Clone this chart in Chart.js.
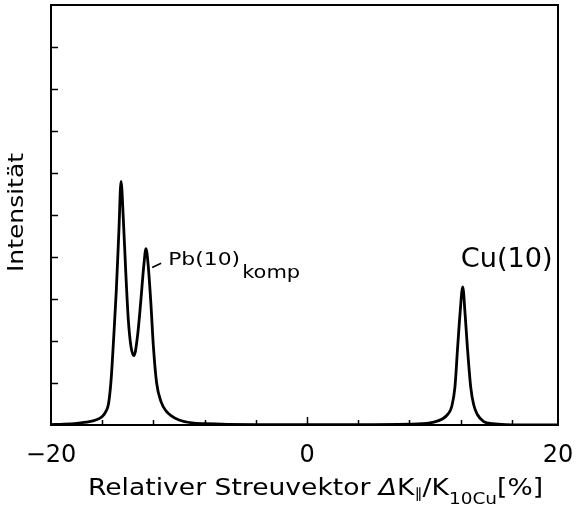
<!DOCTYPE html>
<html>
<head>
<meta charset="utf-8">
<script src="https://cdn.jsdelivr.net/npm/chart.js@4/dist/chart.umd.min.js"></script>
<style>
html,body{margin:0;padding:0;background:#fff;}
#wrap{width:582px;height:508px;position:relative;}
</style>
</head>
<body>
<div id="wrap"><canvas id="c" width="582" height="508"></canvas></div>
<script>
// Data
const xValues = [-20, -19, -18, -17, -16.5, -16, -15.7, -15.5, -15.3, -15.1, -14.9, -14.7, -14.53, -14.35, -14.17, -13.96, -13.75, -13.52, -13.25, -13.0, -12.75, -12.58, -12.4, -12.2, -12.0, -11.75, -11.4, -11.0, -10.6, -10, -9, -8, -4, 0, 4, 8, 9, 9.8, 10.6, 11, 11.3, 11.55, 11.75, 11.95, 12.16, 12.34, 12.52, 12.78, 13.0, 13.3, 13.8, 14.5, 15.5, 19.6];
const intensity = [0.01, 0.02, 0.04, 0.08, 0.12, 0.2, 0.33, 0.52, 1.1, 2.1, 3.2, 4.6, 5.8, 4.9, 3.7, 2.5, 1.86, 1.65, 2.1, 2.9, 3.8, 4.2, 3.77, 2.9, 1.86, 1.0, 0.55, 0.33, 0.22, 0.12, 0.05, 0.03, 0.01, 0.01, 0.01, 0.02, 0.03, 0.06, 0.15, 0.26, 0.44, 0.9, 1.8, 2.66, 3.29, 2.66, 1.86, 0.91, 0.5, 0.25, 0.08, 0.03, 0.01, 0.0];
const xMin = -20, xMax = 19.6;
const xLabelTicks = [-20, 0, 19.6];
const xLabelTexts = ["\u221220", "0", "20"];
const xTickStep = 4;
const yTickStep = 1;
const peakLabels = [
  {x: -10.85, y: 3.8, main: "Pb(10)", mainSize: 18, mainWidth: 72, sub: "komp", subSize: 18, subWidth: 58, leader: [[-12.1, 3.75], [-11.4, 3.85]]},
  {x: 12.0, y: 3.76, main: "Cu(10)", mainSize: 26, mainWidth: 92, sub: "", leader: null}
];
const yTitle = "Intensität";

const FONT = "'DejaVu Sans', sans-serif";

function fitText(ctx, text, x, y, width) {
  const w = ctx.measureText(text).width;
  const k = width / w;
  ctx.save();
  ctx.translate(x, y);
  ctx.scale(k, 1);
  ctx.fillText(text, 0, 0);
  ctx.restore();
}

const decor = {
  id: 'decor',
  afterDraw(chart) {
    const ctx = chart.ctx;
    const a = chart.chartArea;
    const xs = chart.scales.x, ys = chart.scales.y;
    ctx.save();
    ctx.strokeStyle = '#000';
    ctx.fillStyle = '#000';
    // box
    ctx.lineWidth = 2;
    ctx.strokeRect(a.left, a.top, a.right - a.left, a.bottom - a.top);
    // inward ticks
    ctx.lineWidth = 1.5;
    for (let v = xMin + xTickStep; v < xMax; v += xTickStep) {
      const px = Math.round(xs.getPixelForValue(v)) + 0.5;
      const len = (v === 0) ? 8 : 5;
      ctx.beginPath(); ctx.moveTo(px, a.bottom); ctx.lineTo(px, a.bottom - len); ctx.stroke();
    }
    for (let v = ys.min + yTickStep; v < ys.max; v += yTickStep) {
      const py = Math.round(ys.getPixelForValue(v)) + 0.5;
      ctx.beginPath(); ctx.moveTo(a.left, py); ctx.lineTo(a.left + 7, py); ctx.stroke();
    }
    // peak labels
    ctx.textBaseline = 'alphabetic';
    ctx.textAlign = 'left';
    peakLabels.forEach(p => {
      const px = xs.getPixelForValue(p.x), py = ys.getPixelForValue(p.y);
      ctx.font = p.mainSize + "px " + FONT;
      fitText(ctx, p.main, px, py, p.mainWidth);
      if (p.sub) {
        ctx.font = p.subSize + "px " + FONT;
        fitText(ctx, p.sub, px + p.mainWidth + 2, py + 13, p.subWidth);
      }
      if (p.leader) {
        ctx.lineWidth = 1.5;
        ctx.beginPath();
        ctx.moveTo(xs.getPixelForValue(p.leader[0][0]), ys.getPixelForValue(p.leader[0][1]));
        ctx.lineTo(xs.getPixelForValue(p.leader[1][0]), ys.getPixelForValue(p.leader[1][1]));
        ctx.stroke();
      }
    });
    // y title
    ctx.save();
    ctx.translate(23, 272);
    ctx.rotate(-Math.PI / 2);
    ctx.textAlign = 'left';
    ctx.textBaseline = 'alphabetic';
    ctx.font = "22px " + FONT;
    fitText(ctx, yTitle, 0, 0, 119);
    ctx.restore();
    // x title with subscripts, fitted to its width in the reference
    const base = 495;
    const parts = [
      {t: "Relativer Streuvektor ", s: 23, dy: 0, style: ""},
      {t: "\u0394", s: 23, dy: 0, style: "italic "},
      {t: "K", s: 23, dy: 0, style: ""},
      {t: "\u2225", s: 14, dy: 3, style: ""},
      {t: "/K", s: 23, dy: 0, style: ""},
      {t: "10Cu", s: 16, dy: 9, style: ""},
      {t: "[%]", s: 23, dy: 0, style: ""}
    ];
    let total = 0;
    parts.forEach(p => { ctx.font = p.style + p.s + "px " + FONT; p.w = ctx.measureText(p.t).width; total += p.w; });
    const k = 455 / total;
    ctx.save();
    ctx.translate(88, base);
    ctx.scale(k, 1);
    let x = 0;
    parts.forEach(p => {
      ctx.font = p.style + p.s + "px " + FONT;
      ctx.fillText(p.t, x, p.dy);
      x += p.w;
    });
    ctx.restore();
    ctx.restore();
  }
};

const data = xValues.map((v, i) => ({x: v, y: intensity[i]}));

new Chart(document.getElementById('c'), {
  type: 'line',
  data: {
    datasets: [{
      data: data,
      borderColor: '#000',
      borderWidth: 2.8,
      pointRadius: 0,
      cubicInterpolationMode: 'monotone',
      fill: false
    }]
  },
  options: {
    responsive: false,
    animation: false,
    devicePixelRatio: 1,
    layout: {padding: {left: 0, right: 24, top: 5, bottom: 0}},
    plugins: {legend: {display: false}, tooltip: {enabled: false}, title: {display: false}},
    scales: {
      x: {
        type: 'linear', min: xMin, max: xMax,
        grid: {display: false},
        border: {display: false},
        afterBuildTicks: (s) => { s.ticks = xLabelTicks.map(v => ({value: v})); },
        ticks: {
          autoSkip: false,
          maxRotation: 0,
          padding: 8,
          color: '#000',
          font: {family: FONT, size: 24},
          callback: (v) => { const i = xLabelTicks.indexOf(v); return i >= 0 ? xLabelTexts[i] : ''; }
        },
        afterFit: (s) => { s.height = 83; }
      },
      y: {
        type: 'linear', min: 0, max: 10,
        grid: {display: false},
        border: {display: false},
        ticks: {display: false, stepSize: 1},
        afterFit: (s) => { s.width = 51; }
      }
    }
  },
  plugins: [decor]
});
</script>
</body>
</html>
